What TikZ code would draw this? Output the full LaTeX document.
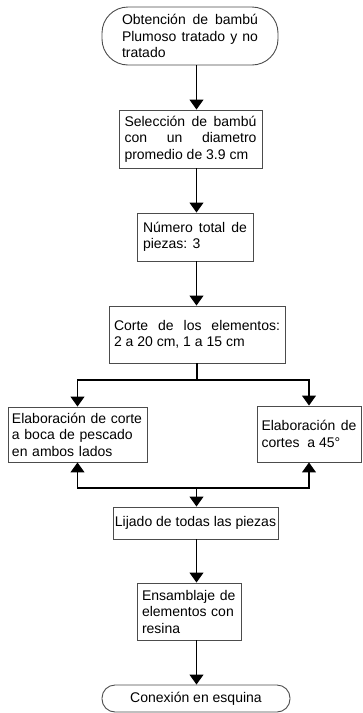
\documentclass[tikz,border=0pt]{standalone}
\usepackage{fontspec}
\setmainfont{Liberation Sans}
\usetikzlibrary{arrows.meta}

\begin{document}
\begin{tikzpicture}[x=1pt,y=-1pt,font=\fontsize{14}{16.5}\selectfont,
box/.style={draw=black!70,line width=0.9pt,fill=white,inner xsep=3pt,inner ysep=2pt},
term/.style={box,rounded corners=26pt},
a/.style={-{Triangle[width=14pt,length=10pt]},line width=1.1pt,draw=black}]
\useasboundingbox (0,0) rectangle (363,713);
\coordinate (eje) at (196.5,0);
\node[term,minimum width=176pt,minimum height=58pt,text width=136pt,align=justify] (b1) at (190,36) {Obtención de bambú Plumoso tratado y no tratado};
\node[box,minimum width=143pt,minimum height=58pt,text width=132pt,align=justify] (b2) at (190.5,139) {Selección de bambú con un diametro promedio de 3.9 cm};
\node[box,minimum width=116pt,minimum height=48pt,text width=104pt,align=justify] (b3) at (195,237) {Número total de piezas: 3};
\node[box,minimum width=176pt,minimum height=57pt,text width=166pt,align=justify] (b4) at (197,334.5) {Corte de los elementos:\linebreak 2 a 20 cm, 1 a 15 cm};
\node[box,minimum width=139pt,minimum height=55pt,text width=131pt,align=left] (izq) at (77.5,434.5) {Elaboración de corte a boca de pescado en ambos lados};
\node[box,minimum width=104pt,minimum height=56pt,text width=95pt,align=justify] (der) at (309,434) {Elaboración de cortes\ \ a 45°};
\node[box,minimum width=165pt,minimum height=32pt,inner xsep=1pt] (b5) at (195.5,523) {Lijado de todas las piezas};
\node[box,minimum width=104pt,minimum height=57pt,text width=94pt,align=left] (b6) at (189,611.5) {Ensamblaje de elementos con resina};
\node[term,rounded corners=13pt,minimum width=188pt,minimum height=27pt] (b7) at (196,698.5) {Conexión en esquina};
\coordinate (div) at (197,380);
\coordinate (uni) at (196.5,488);
% flujo principal
\draw[a] (b1.south -| eje) -- (b2.north -| eje);
\draw[a] (b2.south -| eje) -- (b3.north -| eje);
\draw[a] (b3.south -| eje) -- (b4.north -| eje);
\draw[line width=1.1pt] (b4.south -| div) -- (div);
\draw[a] (div) -| (izq.north);
\draw[a] (div) -| (der.north);
\draw[a] (uni) -| (izq.south);
\draw[a] (uni) -| (der.south);
\draw[a] (uni) -- (b5.north -| uni);
\draw[a] (b5.south -| eje) -- (b6.north -| eje);
\draw[a] (b6.south -| eje) -- (b7.north -| eje);
\end{tikzpicture}
\end{document}
